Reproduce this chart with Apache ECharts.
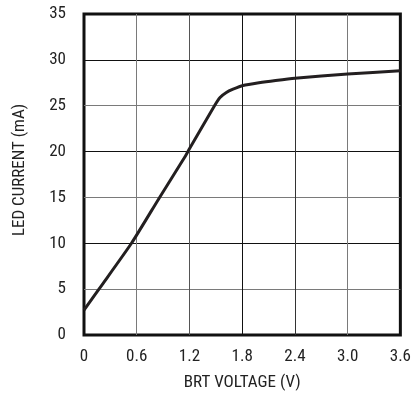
<!DOCTYPE html>
<html>
<head>
<meta charset="utf-8">
<script src="https://cdn.jsdelivr.net/npm/echarts@6/dist/echarts.min.js"></script>
<style>
  html, body { margin: 0; padding: 0; background: #fff; }
  #chart { width: 414px; height: 396px; }
</style>
</head>
<body>
<div id="chart"></div>
<script>
// LED current vs. BRT control voltage
const brtVoltage = [0, 0.17, 0.54, 0.86, 1.14, 1.2, 1.485, 1.548, 1.62, 1.696, 1.81, 1.99, 2.18, 2.4, 3.0, 3.6];
const ledCurrent = [2.7, 5, 10, 15, 19.3, 20.3, 25, 25.9, 26.45, 26.8, 27.2, 27.5, 27.75, 28.0, 28.45, 28.8];
const xTickLabels = ['0', '0.6', '1.2', '1.8', '2.4', '3.0', '3.6'];
const yTickLabels = ['0', '5', '10', '15', '20', '25', '30', '35'];

const FONT = '"Liberation Sans Narrow", "Roboto Condensed", "DejaVu Sans Condensed", sans-serif';

const chart = echarts.init(document.getElementById('chart'), null, { renderer: 'canvas' });

chart.setOption({
  animation: false,
  backgroundColor: '#ffffff',
  grid: {
    left: 84, top: 14, right: 6, bottom: 57,
    show: true, borderColor: '#111', borderWidth: 3, backgroundColor: 'transparent'
  },
  xAxis: {
    type: 'value', min: 0, max: 3.6, interval: 0.6,
    name: 'BRT VOLTAGE (V)', nameLocation: 'middle', nameGap: 39,
    nameTextStyle: { fontFamily: FONT, fontSize: 17, color: '#222' },
    axisLine: { show: false },
    axisTick: { show: false },
    axisLabel: {
      margin: 13, fontFamily: FONT, fontSize: 17, color: '#222',
      showMinLabel: true, showMaxLabel: true,
      formatter: v => xTickLabels[Math.round(v / 0.6)]
    },
    splitLine: {
      show: true, showMinLine: false, showMaxLine: false,
      lineStyle: { width: 1, color: ['#7a7a7a', '#555', '#111', '#333', '#7a7a7a'] }
    }
  },
  yAxis: {
    type: 'value', min: 0, max: 35, interval: 5,
    axisLine: { show: false },
    axisTick: { show: false },
    axisLabel: {
      margin: 18, fontFamily: FONT, fontSize: 17, color: '#222',
      formatter: v => yTickLabels[Math.round(v / 5)]
    },
    splitLine: {
      show: true, showMinLine: false, showMaxLine: false,
      lineStyle: { width: 1, color: ['#7a7a7a', '#111', '#7a7a7a', '#111', '#7a7a7a', '#111'] }
    }
  },
  graphic: [{
    type: 'text',
    x: 19.5, y: 170, rotation: Math.PI / 2,
    style: {
      text: 'LED CURRENT (mA)', fontFamily: FONT, fontSize: 17, fill: '#222',
      align: 'center', verticalAlign: 'middle'
    }
  }],
  series: [{
    type: 'line',
    data: brtVoltage.map((v, i) => [v, ledCurrent[i]]),
    smooth: 0.2,
    showSymbol: false,
    lineStyle: { color: '#231f20', width: 3 },
    clip: true
  }]
});
</script>
</body>
</html>
